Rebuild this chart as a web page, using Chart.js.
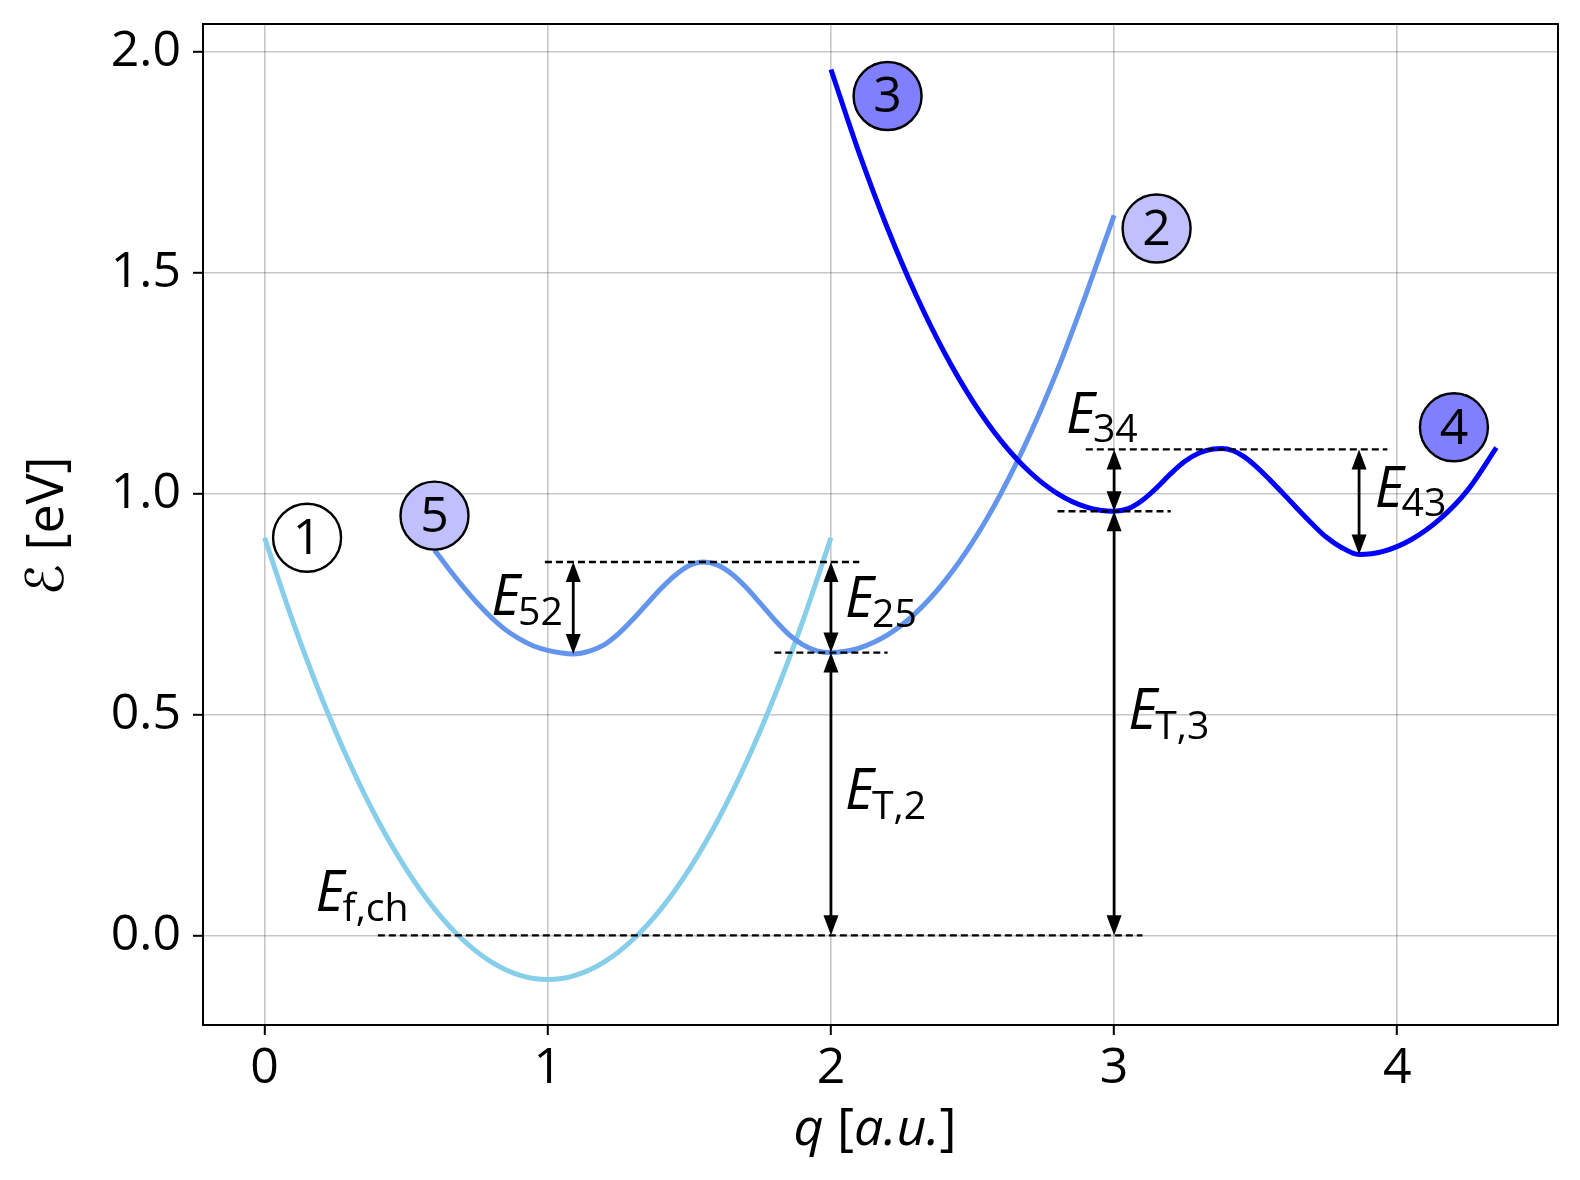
<!DOCTYPE html>
<html>
<head>
<meta charset="utf-8">
<script src="https://cdn.jsdelivr.net/npm/chart.js@4"></script>
<style>
  body { margin: 0; background: #fff; }
  canvas { display: block; }
</style>
</head>
<body>
<canvas id="chart" width="1580" height="1180"></canvas>
<script>
// Potential energy curves

// curve 1 (sky blue)
const q1 = [0, 0.1, 0.2, 0.3, 0.4, 0.5, 0.6, 0.7, 0.8, 0.9, 1.0, 1.1, 1.2, 1.3, 1.4, 1.5, 1.6, 1.7, 1.8, 1.9, 2.0];
const e1 = [0.90, 0.71, 0.54, 0.39, 0.26, 0.15, 0.06, -0.01, -0.06, -0.09, -0.10, -0.09, -0.06, -0.01, 0.06, 0.15, 0.26, 0.39, 0.54, 0.71, 0.90];

// curve 2/5 (cornflower)
const q2 = [0.60, 0.65, 0.70, 0.75, 0.80, 0.85, 0.90, 0.95, 1.00, 1.05, 1.09, 1.15, 1.20, 1.25, 1.30, 1.35, 1.40, 1.45, 1.50, 1.55,
            1.60, 1.65, 1.70, 1.75, 1.80, 1.85, 1.90, 1.95, 2.00, 2.05, 2.10, 2.20, 2.30, 2.40, 2.50, 2.60, 2.70, 2.80, 2.90, 3.00];
const e2 = [0.872, 0.830, 0.790, 0.753, 0.720, 0.692, 0.671, 0.655, 0.645, 0.639, 0.637, 0.644, 0.658, 0.683, 0.715, 0.750, 0.785, 0.815, 0.837, 0.845,
            0.838, 0.818, 0.788, 0.752, 0.715, 0.682, 0.658, 0.644, 0.640, 0.643, 0.650, 0.680, 0.730, 0.800, 0.890, 1.000, 1.130, 1.280, 1.450, 1.630];

// curve 3/4 (blue)
const q3 = [2.0, 2.1, 2.2, 2.3, 2.4, 2.5, 2.6, 2.7, 2.8, 2.9, 3.0, 3.05, 3.10, 3.15, 3.20, 3.25, 3.30, 3.35, 3.38, 3.42, 3.46,
            3.50, 3.55, 3.60, 3.65, 3.70, 3.75, 3.80, 3.865, 3.95, 4.05, 4.15, 4.25, 4.35];
const e3 = [1.96, 1.77, 1.60, 1.45, 1.32, 1.21, 1.12, 1.05, 1.00, 0.97, 0.96, 0.966, 0.985, 1.013, 1.045, 1.073, 1.092, 1.101, 1.102, 1.097, 1.083,
            1.062, 1.031, 0.998, 0.964, 0.931, 0.901, 0.879, 0.862, 0.869, 0.896, 0.942, 1.009, 1.104];

// dashed reference levels
const levelE    = [0, 0.845, 0.64, 0.96, 1.10];
const levelFrom = [0.4, 0.99, 1.8, 2.8, 2.9];
const levelTo   = [3.1, 2.1, 2.2, 3.2, 3.965];

// double arrows
const arrowQ    = [1.09, 2, 2, 3, 3, 3.865];
const arrowLow  = [0.637, 0.64, 0, 0, 0.96, 0.862];
const arrowHigh = [0.845, 0.845, 0.64, 0.96, 1.10, 1.10];

// energy labels
const labelSub = ['52', '25', 'T,2', 'T,3', '34', '43', 'f,ch'];
const labelQ   = [0.80, 2.05, 2.05, 3.05, 2.83, 3.92, 0.18];
const labelE   = [0.725, 0.72, 0.285, 0.467, 1.138, 0.97, 0.055];

// state markers
const stateText = ['1', '5', '3', '2', '4'];
const stateQ    = [0.15, 0.6, 2.2, 3.15, 4.2];
const stateE    = [0.9, 0.95, 1.9, 1.6, 1.15];

const xTicks = [0, 1, 2, 3, 4];
const yTicks = [0, 0.5, 1.0, 1.5, 2.0];

const FONT = "'Open Sans', 'Liberation Sans', sans-serif";
const stateFill = ['#ffffff', '#c0c0ff', '#8080ff', '#c0c0ff', '#8080ff'];

const toPoints = (xs, ys) => xs.map((v, i) => ({ x: v, y: ys[i] }));

function curve(xs, ys, color, order) {
    return {
        data: toPoints(xs, ys),
        showLine: true,
        borderColor: color,
        borderWidth: 5,
        pointRadius: 0,
        cubicInterpolationMode: 'monotone',
        order: order
    };
}

const datasets = [
    curve(q1, e1, '#87ceeb', 3),
    curve(q2, e2, '#6495ed', 2),
    curve(q3, e3, '#0000ff', 1)
];
levelE.forEach((e, i) => {
    datasets.push({
        data: [{ x: levelFrom[i], y: e }, { x: levelTo[i], y: e }],
        showLine: true,
        borderColor: '#000',
        borderWidth: 2.4,
        borderDash: [7, 4],
        pointRadius: 0,
        order: 0
    });
});

// draws text pieces one after another (italic / subscript)
function drawRich(ctx, parts, px, py, size) {
    let cx = px;
    parts.forEach(p => {
        const s = p.sub ? size * 0.7 : size;
        ctx.font = (p.italic ? 'italic ' : '') + s + 'px ' + (p.family || FONT);
        ctx.fillText(p.text, cx, py + (p.sub ? size * 0.17 : 0));
        cx += ctx.measureText(p.text).width + (p.after || 0);
    });
    return cx - px;
}

function richWidth(ctx, parts, size) {
    let w = 0;
    parts.forEach(p => {
        const s = p.sub ? size * 0.7 : size;
        ctx.font = (p.italic ? 'italic ' : '') + s + 'px ' + (p.family || FONT);
        w += ctx.measureText(p.text).width + (p.after || 0);
    });
    return w;
}

function arrowHead(ctx, px, py, dir) {
    const L = 20, W = 7.5;
    ctx.beginPath();
    ctx.moveTo(px, py);
    ctx.lineTo(px - W, py - dir * L);
    ctx.lineTo(px + W, py - dir * L);
    ctx.closePath();
    ctx.fill();
}

const annotations = {
    id: 'annotations',
    afterDatasetsDraw(chart) {
        const { ctx, chartArea: a } = chart;
        const x = chart.scales.x, y = chart.scales.y;
        ctx.save();
        ctx.fillStyle = '#000';
        ctx.strokeStyle = '#000';

        // arrows
        ctx.lineWidth = 2.8;
        arrowQ.forEach((q, i) => {
            const px = x.getPixelForValue(q);
            const top = y.getPixelForValue(arrowHigh[i]);
            const bot = y.getPixelForValue(arrowLow[i]);
            ctx.beginPath();
            ctx.moveTo(px, top + 14);
            ctx.lineTo(px, bot - 14);
            ctx.stroke();
            arrowHead(ctx, px, top, -1);
            arrowHead(ctx, px, bot, 1);
        });

        // energy labels
        ctx.textAlign = 'left';
        ctx.textBaseline = 'alphabetic';
        labelSub.forEach((s, i) => {
            drawRich(ctx, [
                { text: 'E', italic: true, after: -2 },
                { text: s, sub: true }
            ], x.getPixelForValue(labelQ[i]), y.getPixelForValue(labelE[i]), 56);
        });

        // state circles
        stateText.forEach((t, i) => {
            const px = x.getPixelForValue(stateQ[i]);
            const py = y.getPixelForValue(stateE[i]);
            ctx.beginPath();
            ctx.arc(px, py, 34, 0, Math.PI * 2);
            ctx.fillStyle = stateFill[i];
            ctx.fill();
            ctx.lineWidth = 2.4;
            ctx.stroke();
            ctx.fillStyle = '#000';
            ctx.font = '50px ' + FONT;
            ctx.textAlign = 'center';
            ctx.textBaseline = 'middle';
            ctx.fillText(t, px, py + 2);
        });

        // top and right spines
        ctx.lineWidth = 2;
        ctx.beginPath();
        ctx.moveTo(a.left, a.top);
        ctx.lineTo(a.right, a.top);
        ctx.lineTo(a.right, a.bottom);
        ctx.stroke();

        // axis titles
        ctx.textAlign = 'left';
        ctx.textBaseline = 'alphabetic';
        const xParts = [
            { text: 'q', italic: true },
            { text: ' [', italic: false },
            { text: 'a.u.', italic: true },
            { text: ']', italic: false }
        ];
        const xw = richWidth(ctx, xParts, 52);
        drawRich(ctx, xParts, 875 - xw / 2, 1145, 52);

        const yParts = [
            { text: 'ℰ', italic: false, family: "'DejaVu Sans', sans-serif" },
            { text: ' [eV]', italic: false }
        ];
        const yw = richWidth(ctx, yParts, 52);
        ctx.translate(63, 526);
        ctx.rotate(-Math.PI / 2);
        drawRich(ctx, yParts, -yw / 2, 0, 52);
        ctx.restore();
    }
};

const axisCommon = {
    type: 'linear',
    bounds: 'data',
    grid: {
        color: 'rgba(0,0,0,0.22)',
        lineWidth: 1.6,
        tickColor: '#000',
        tickLength: 10,
        tickWidth: 2
    },
    border: { display: true, color: '#000', width: 2 }
};

new Chart(document.getElementById('chart'), {
    type: 'scatter',
    data: { datasets: datasets },
    options: {
        responsive: false,
        animation: false,
        events: [],
        layout: { padding: { top: 24, right: 22, left: 0, bottom: 0 } },
        scales: {
            x: Object.assign({}, axisCommon, {
                min: -0.2175,
                max: 4.5675,
                afterBuildTicks: s => { s.ticks = xTicks.map(v => ({ value: v })); },
                afterFit: s => {
                    s.height = 155;
                    s.paddingLeft = 0;
                    s.paddingRight = 0;
                },
                ticks: {
                    color: '#000',
                    font: { family: FONT, size: 50 },
                    padding: 4,
                    maxRotation: 0,
                    callback: v => String(v)
                }
            }),
            y: Object.assign({}, axisCommon, {
                min: -0.203,
                max: 2.063,
                afterBuildTicks: s => { s.ticks = yTicks.map(v => ({ value: v })); },
                afterFit: s => {
                    s.width = 203;
                    s.paddingTop = 0;
                    s.paddingBottom = 0;
                },
                ticks: {
                    color: '#000',
                    font: { family: FONT, size: 50 },
                    padding: 12,
                    callback: v => v.toFixed(1)
                }
            })
        },
        plugins: {
            legend: { display: false },
            tooltip: { enabled: false }
        }
    },
    plugins: [annotations]
});
</script>
</body>
</html>
